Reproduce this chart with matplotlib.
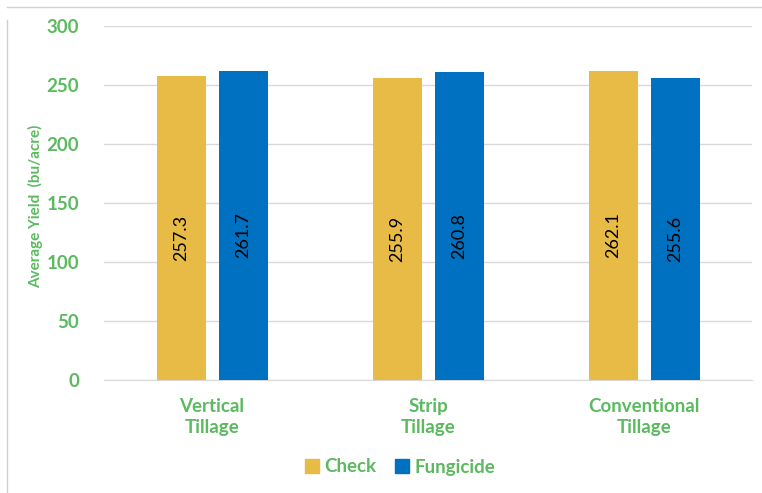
import numpy as np
import matplotlib
matplotlib.use("Agg")
import matplotlib.pyplot as plt
from matplotlib.patches import Patch
from matplotlib.lines import Line2D

categories = ["Vertical\nTillage", "Strip\nTillage", "Conventional\nTillage"]
check = [257.3, 255.9, 262.1]
fungicide = [261.7, 260.8, 255.6]

green = "#5BBA5F"
gold = "#E8BB46"
blue = "#0070C0"

plt.rcParams["font.family"] = ["Lato", "DejaVu Sans"]

fig = plt.figure(figsize=(7.62, 4.93), dpi=100)
ax = fig.add_axes([104 / 762, 1 - 380 / 493, 648 / 762, 354 / 493])

x = np.arange(len(categories))
w = 49 / 216
off = 31 / 216

b1 = ax.bar(x - off, check, w, color=gold, zorder=3)
b2 = ax.bar(x + off, fungicide, w, color=blue, zorder=3)

for bars, vals in ((b1, check), (b2, fungicide)):
    for bar, v in zip(bars, vals):
        ax.text(bar.get_x() + bar.get_width() / 2, v / 2 - 8, f"{v:.1f}",
                rotation=90, ha="center", va="center", fontsize=13, color="black")

ax.set_xlim(-0.5, 2.5)
ax.set_ylim(0, 300)
ax.set_yticks(range(0, 301, 50))
ax.yaxis.grid(True, color="#D9D9D9", linewidth=1, zorder=0)
ax.set_axisbelow(True)
for s in ["top", "right", "left"]:
    ax.spines[s].set_visible(False)
ax.spines["bottom"].set_color("#D9D9D9")
ax.tick_params(length=0)
ax.tick_params(axis="y", labelsize=13.5, labelcolor=green, pad=18)
for lbl in ax.get_yticklabels():
    lbl.set_fontweight("bold")
ax.set_xticks(x)
ax.set_xticklabels(categories, fontsize=13.5, color=green, fontweight="bold",
                   linespacing=1.3)
ax.tick_params(axis="x", pad=13)

ax.set_ylabel("Average Yield  (bu/acre)", fontsize=11, color=green,
              fontweight="bold")
ax.yaxis.set_label_coords(-0.094, 0.49)

handles = [Patch(color=gold, label="Check"), Patch(color=blue, label="Fungicide")]
leg = fig.legend(handles=handles, loc="center", bbox_to_anchor=(400 / 762, 1 - 467 / 493),
                 ncol=2, frameon=False, handlelength=0.75, handleheight=0.75,
                 handletextpad=0.3, columnspacing=1.0,
                 prop={"size": 13.5, "weight": "bold"})
for t in leg.get_texts():
    t.set_color(green)

# faint frame from the screenshot
fig.add_artist(Line2D([7 / 762, 7 / 762], [0, 1 - 20 / 493], color="#D0D0D0", lw=1))
fig.add_artist(Line2D([7 / 762, 1], [1 - 7 / 493, 1 - 7 / 493], color="#D0D0D0", lw=1))

fig.savefig("out.png", dpi=100)
